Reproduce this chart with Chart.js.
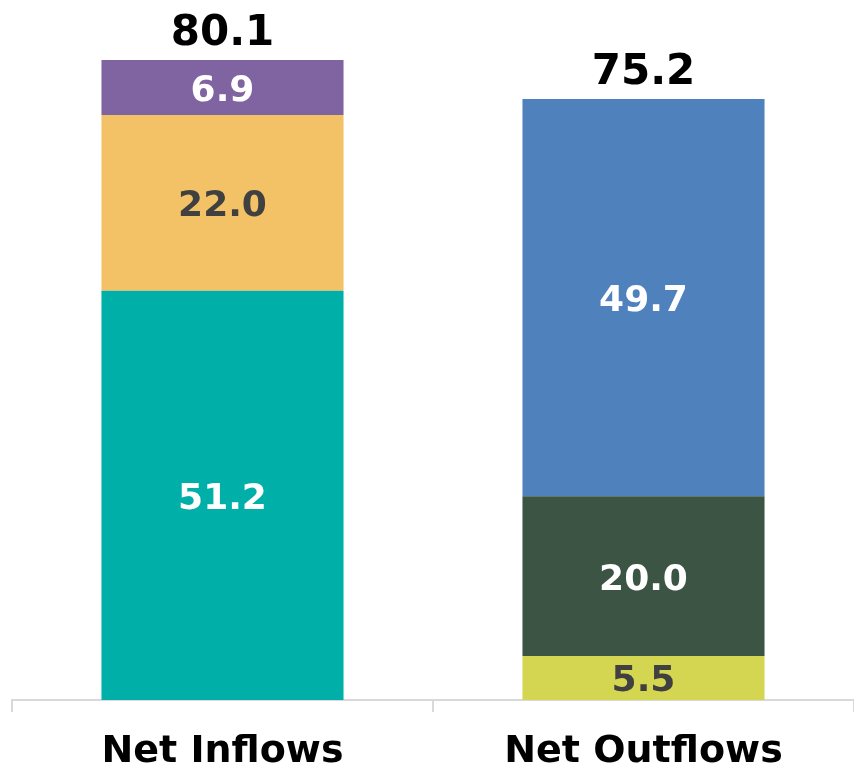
<!DOCTYPE html>
<html>
<head>
<meta charset="utf-8">
<script src="https://cdn.jsdelivr.net/npm/chart.js@4/dist/chart.umd.min.js"></script>
<style>
  html, body { margin: 0; padding: 0; background: #fff; }
  #wrap { width: 854px; height: 764px; }
</style>
</head>
<body>
<div id="wrap"><canvas id="flows"></canvas></div>
<script>
// categories and stacked segments (bottom -> top)
const categories = ['Net Inflows', 'Net Outflows'];
const bottomVals = [51.2, 5.5];
const middleVals = [22.0, 20.0];
const topVals = [6.9, 49.7];

const bottomColors = ['#00B0A8', '#D4D652'];
const middleColors = ['#F4C266', '#3C5443'];
const topColors = ['#8064A2', '#4F81BD'];

// label colour per segment: dark on the light fills
const bottomText = ['#ffffff', '#404040'];
const middleText = ['#404040', '#ffffff'];
const topText = ['#ffffff', '#ffffff'];

const totals = categories.map((c, i) => bottomVals[i] + middleVals[i] + topVals[i]);

const FONT = '"DejaVu Sans", Verdana, sans-serif';

// writes values inside each segment and the total above each bar
const labelPlugin = {
    id: 'barLabels',
    afterDatasetsDraw(chart){
        let ctx = chart.ctx;
        ctx.save();
        ctx.textAlign = 'center';
        ctx.textBaseline = 'middle';
        ctx.font = 'bold 36px ' + FONT;
        chart.data.datasets.forEach((ds, di) => {
            let meta = chart.getDatasetMeta(di);
            meta.data.forEach((bar, i) => {
                let mid = (bar.y + bar.base) / 2;
                ctx.fillStyle = ds.textColors[i];
                ctx.fillText(ds.data[i].toFixed(1), bar.x, mid + 4);
            });
        });
        let last = chart.getDatasetMeta(chart.data.datasets.length - 1);
        ctx.font = 'bold 42px ' + FONT;
        ctx.fillStyle = '#000000';
        last.data.forEach((bar, i) => {
            ctx.fillText(totals[i].toFixed(1), bar.x, bar.y - 26);
        });
        ctx.restore();
    }
};

new Chart(document.getElementById('flows'), {
    type: 'bar',
    data: {
        labels: categories,
        datasets: [
            {data: bottomVals, backgroundColor: bottomColors, textColors: bottomText},
            {data: middleVals, backgroundColor: middleColors, textColors: middleText},
            {data: topVals, backgroundColor: topColors, textColors: topText}
        ]
    },
    options: {
        responsive: true,
        maintainAspectRatio: false,
        animation: false,
        categoryPercentage: 1,
        barPercentage: 0.575,
        layout: {padding: {left: 12, right: 0, top: 0, bottom: 0}},
        plugins: {legend: {display: false}, tooltip: {enabled: false}},
        scales: {
            x: {
                stacked: true,
                // keep the baseline 64px above the bottom edge
                afterFit(scale){ scale.height = 64; },
                border: {color: '#d9d9d9', width: 2},
                grid: {drawOnChartArea: false, drawTicks: true, tickLength: 12, color: '#d9d9d9', lineWidth: 2},
                ticks: {color: '#000000', padding: 21, font: {family: FONT, size: 38, weight: 'bold', lineHeight: 1}}
            },
            y: {
                stacked: true,
                display: false,
                min: 0,
                max: 87.6
            }
        }
    },
    plugins: [labelPlugin]
});
</script>
</body>
</html>
